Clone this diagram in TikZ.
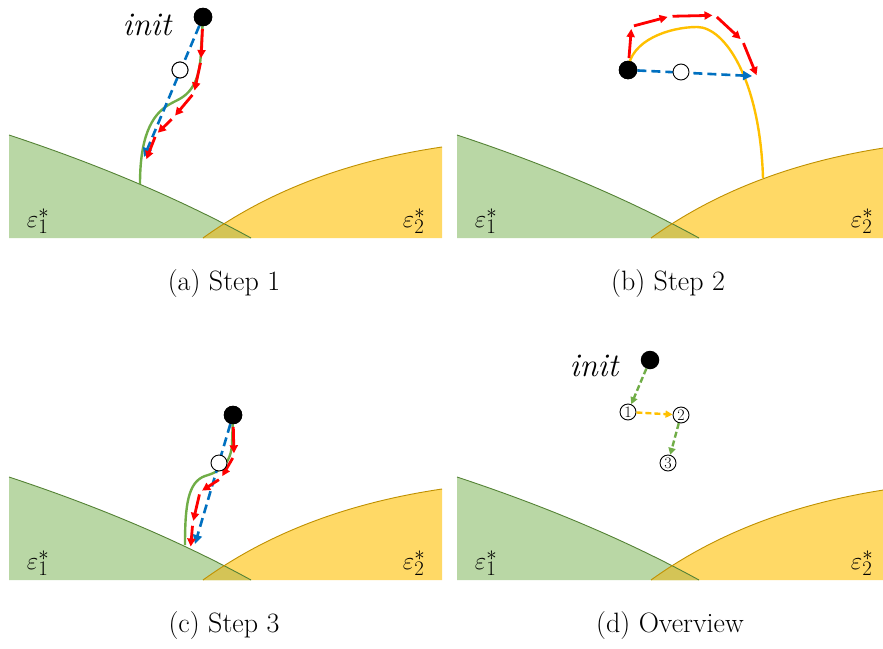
\documentclass[tikz,border=0pt]{standalone}
\usepackage{tikz}
\usetikzlibrary{arrows.meta}
\definecolor{basinG}{RGB}{185,215,165}
\definecolor{basinY}{RGB}{255,217,102}
\definecolor{basinO}{RGB}{212,196,86}
\definecolor{edgeGc}{RGB}{84,130,53}
\definecolor{edgeYc}{RGB}{191,144,0}
\definecolor{curveG}{RGB}{112,173,71}
\definecolor{curveY}{RGB}{255,192,0}
\definecolor{arrBlue}{RGB}{0,112,192}
\definecolor{arrRed}{RGB}{255,0,0}
\newcommand{\basins}{%
 \fill[basinG] (9,238) -- (9,135) .. controls (99.7,165) and (180.3,199.3) .. (251,238) -- cycle;
 \fill[basinY] (203,238) .. controls (267.7,191.3) and (347.3,161) .. (442,147) -- (442,238) -- cycle;
 \begin{scope}
 \clip (9,238) -- (9,135) .. controls (99.7,165) and (180.3,199.3) .. (251,238) -- cycle;
 \fill[basinO] (203,238) .. controls (267.7,191.3) and (347.3,161) .. (442,147) -- (442,238) -- cycle;
 \end{scope}
 \draw[edgeGc,line width=0.9pt] (9,135) .. controls (99.7,165) and (180.3,199.3) .. (251,238);
 \draw[edgeYc,line width=0.9pt] (203,238) .. controls (267.7,191.3) and (347.3,161) .. (442,147);
 \node[lbl] (e1) at (38,221) {$\varepsilon_1^*$};
 \node[lbl] (e2) at (414,221) {$\varepsilon_2^*$};
}

\begin{document}
\begin{tikzpicture}[x=1pt,y=-1pt,
 lbl/.style={font=\fontsize{24.88}{26}\selectfont},
 caption/.style={font=\fontsize{28}{32}\selectfont},
 initlbl/.style={font=\fontsize{33}{33}\selectfont\itshape},
 dotblack/.style={circle,fill=black,inner sep=0,minimum size=18.5pt},
 dotwhite/.style={circle,draw=black,fill=white,line width=0.9pt,inner sep=0,minimum size=16pt},
 stepnum/.style={circle,draw=black,fill=white,line width=0.9pt,inner sep=0,minimum size=16pt,font=\fontsize{16}{16}\selectfont},
 redarr/.style={draw=arrRed,line width=2.8pt,-{Triangle[length=8pt,width=8pt]},shorten <=2.5pt,shorten >=2.5pt},
 bluearr/.style={draw=arrBlue,line width=2.6pt,dash pattern=on 9pt off 5pt,-{Triangle[length=9pt,width=9pt]}},
 gcurve/.style={draw=curveG,line width=2.4pt},
 ycurve/.style={draw=curveY,line width=2.4pt},
 gdash/.style={draw=curveG,line width=2.4pt,dash pattern=on 6pt off 3pt,-{Triangle[length=7pt,width=7pt]}},
 ydash/.style={draw=curveY,line width=2.4pt,dash pattern=on 6pt off 3pt,-{Triangle[length=7pt,width=7pt]}}]
\clip (0,0) rectangle (883,648);

% (a) Step 1
\basins
\node[initlbl] (initA) at (147,25) {init};
\node[dotblack] (dotA) at (203,17) {};
\node[dotwhite] (wA) at (180,70) {};
\coordinate (gA) at (140,184);
\coordinate (blueA) at (144,157);
\coordinate (a1) at (201,60.5);
\coordinate (a2) at (194,93);
\coordinate (a3) at (173.5,117.5);
\coordinate (a4) at (156,134.5);
\coordinate (a5) at (145.5,161.5);
\draw[gcurve] (dotA.center) -- (201,50) .. controls (200,95) and (180,98) .. (170,104)
 .. controls (150,115) and (140,140) .. (gA);
\draw[bluearr] (dotA) -- (blueA);
\foreach \a/\b in {dotA/a1,a1/a2,a2/a3,a3/a4,a4/a5}
 \draw[redarr] (\a) -- (\b);
\node[dotwhite] at (wA) {};
\node[dotblack] at (dotA) {};
\node[caption] (capA) at (224,284) {(a) Step 1};

% (b) Step 2
\begin{scope}[shift={(448,0)}]
 \basins
\end{scope}
\node[dotblack] (dotB) at (628,70) {};
\coordinate (yB) at (763,178);
\coordinate (blueB) at (752,76);
\coordinate (b1) at (631.5,26.5);
\coordinate (b2) at (670,16.3);
\coordinate (b3) at (715,15.3);
\coordinate (b4) at (742.5,40.8);
\coordinate (b5) at (757.5,77.5);
\draw[ycurve] (dotB.center) .. controls (630,40) and (670,27) .. (697,27)
 .. controls (725,27) and (760,80) .. (yB);
\draw[bluearr] (dotB) -- (blueB);
\foreach \a/\b in {dotB/b1,b1/b2,b2/b3,b3/b4,b4/b5}
 \draw[redarr] (\a) -- (\b);
\node[dotwhite] (wB) at (681,72) {};
\node[dotblack] at (dotB) {};
\node[caption] (capB) at (668,284) {(b) Step 2};

% (c) Step 3
\begin{scope}[shift={(0,342)}]
 \basins
\end{scope}
\node[dotblack] (dotC) at (233,415) {};
\coordinate (gC) at (185,545);
\coordinate (blueC) at (195,544);
\coordinate (c1) at (234,455.8);
\coordinate (c2) at (221,478.3);
\coordinate (c3) at (200,492);
\coordinate (c4) at (192.7,523.3);
\coordinate (c5) at (190.5,549);
\draw[gcurve] (dotC.center) -- (232,445) .. controls (230,468) and (215,473) .. (205,476)
 .. controls (188,482) and (185,505) .. (gC);
\draw[bluearr] (dotC) -- (blueC);
\foreach \a/\b in {dotC/c1,c1/c2,c2/c3,c3/c4,c4/c5}
 \draw[redarr] (\a) -- (\b);
\node[dotwhite] (wC) at (219,463) {};
\node[dotblack] at (dotC) {};
\node[caption] (capC) at (224,626) {(c) Step 3};

% (d) Overview
\begin{scope}[shift={(448,342)}]
 \basins
\end{scope}
\node[initlbl] (initD) at (594,366) {init};
\node[dotblack] (dotD) at (650,360) {};
\node[stepnum] (n1) at (628,412) {1};
\node[stepnum] (n2) at (681,415) {2};
\node[stepnum] (n3) at (668,463) {3};
\draw[gdash] (dotD) -- (n1);
\draw[ydash] (n1) -- (n2);
\draw[gdash] (n2) -- (n3);
\node[caption] (capD) at (670,626) {(d) Overview};
\end{tikzpicture}
\end{document}
